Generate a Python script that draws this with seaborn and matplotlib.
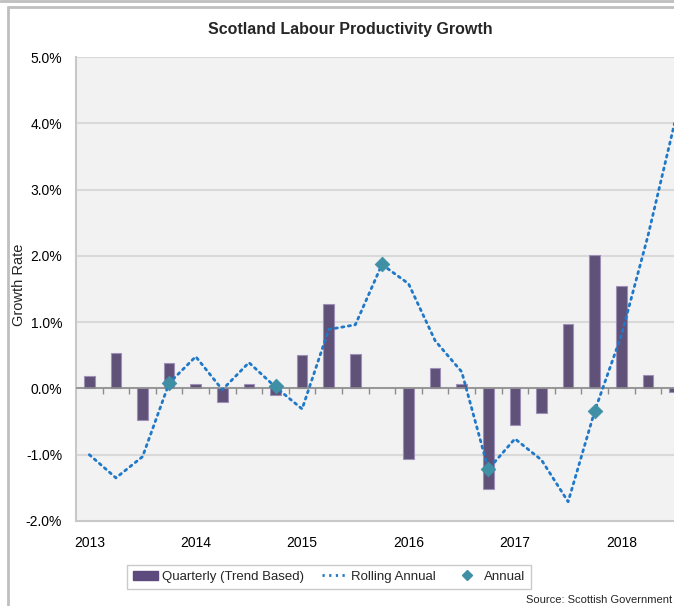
import numpy as np
import pandas as pd
import matplotlib
matplotlib.use("Agg")
import matplotlib.pyplot as plt
from matplotlib.lines import Line2D
from matplotlib.patches import Patch
import seaborn as sns

# quarters from 2013 Q1, values in %
quarter_pos = list(range(23))
year_labels = ["2013", "2014", "2015", "2016", "2017", "2018"]
year_pos = [0, 4, 8, 12, 16, 20]
quarterly = [0.19, 0.53, -0.48, 0.39, 0.06, -0.20, 0.06, -0.10, 0.51, 1.28, 0.52, np.nan,
             -1.06, 0.31, 0.07, -1.51, -0.55, -0.37, 0.97, 2.02, 1.55, 0.21, -0.05]
rolling = [-1.00, -1.35, -1.03, 0.08, 0.48, -0.02, 0.39, 0.02, -0.31, 0.89, 0.96, 1.87,
           1.58, 0.72, 0.25, -1.22, -0.76, -1.08, -1.71, -0.34, 0.80, 2.30, 4.00]
annual_pos = [3, 7, 11, 15, 19]
annual = [0.08, 0.04, 1.88, -1.21, -0.34]

BAR_C = "#5e4b7e"
LINE_C = "#1f78c8"
DIAM_C = "#3f8fa5"
FONT = ["Liberation Sans", "DejaVu Sans"]

sns.set_style("white")
plt.rcParams["font.family"] = FONT

df_q = pd.DataFrame({"pos": quarter_pos, "value": quarterly}).dropna()
df_r = pd.DataFrame({"pos": quarter_pos, "value": rolling})
df_a = pd.DataFrame({"pos": annual_pos, "value": annual})

fig = plt.figure(figsize=(6.74, 6.06), dpi=100)
ax = fig.add_axes([0.1128, 0.1403, 0.8872, 0.7656])
ax.set_facecolor("#f2f2f2")

for v in range(-1, 6):
    ax.axhline(v, color="#d9d9d9", lw=1.5, zorder=0)

sns.barplot(data=df_q, x="pos", y="value", native_scale=True, width=0.4,
            color=BAR_C, edgecolor="#9d8fb5", linewidth=0.8, ax=ax, zorder=2)
sns.lineplot(data=df_r, x="pos", y="value", ax=ax, color=LINE_C, lw=2.0,
             linestyle=(0, (0.8, 1.6)), zorder=4)
ax.lines[-1].set_dash_capstyle("round")
sns.scatterplot(data=df_a, x="pos", y="value", ax=ax, marker="D", s=55,
                color=DIAM_C, edgecolor=DIAM_C, zorder=5)

ax.axhline(0, color="#8c8c8c", lw=1.2, zorder=3)
ax.vlines(np.array(quarter_pos) + 0.5, -0.08, 0, color="#8c8c8c", lw=1.0, zorder=3)

ax.set_xlim(-0.5, 21.98)
ax.set_ylim(-2.0, 5.0)
ax.set_yticks(range(-2, 6))
ax.set_yticklabels([f"{v:.1f}%" for v in range(-2, 6)])
ax.set_xticks(year_pos)
ax.set_xticklabels(year_labels)
ax.tick_params(axis="both", length=0, labelsize=10, colors="#000000")
ax.tick_params(axis="x", pad=11)
ax.tick_params(axis="y", pad=10)
ax.set_xlabel("")
ax.set_ylabel("Growth Rate", fontsize=10.5)
ax.yaxis.set_label_coords(-0.083, 0.51)

for s in ["top", "right"]:
    ax.spines[s].set_visible(False)
for s in ["left", "bottom"]:
    ax.spines[s].set_color("#c8c8c8")
    ax.spines[s].set_linewidth(1.5)

fig.text(0.52, 0.951, "Scotland Labour Productivity Growth", ha="center", va="center",
         fontsize=11.5, fontweight="bold")

handles = [Patch(facecolor=BAR_C, edgecolor=BAR_C),
           Line2D([0], [0], color=LINE_C, lw=2.0, linestyle=(0, (0.8, 1.6))),
           Line2D([0], [0], marker="D", color="none", markerfacecolor=DIAM_C,
                  markeredgecolor=DIAM_C, markersize=5)]
labels = ["Quarterly (Trend Based)", "Rolling Annual", "Annual"]
leg = fig.legend(handles, labels, loc="center", bbox_to_anchor=(0.488, 0.048), ncol=3,
                 frameon=True, fancybox=False, edgecolor="#bfbfbf", fontsize=9.5,
                 handlelength=1.9, handletextpad=0.3, columnspacing=1.4,
                 borderpad=0.45)

fig.text(0.997, 0.002, "Source: Scottish Government", ha="right", va="bottom", fontsize=8)

# chart frame
fig.add_artist(Line2D([0.012, 0.012], [0.0, 0.988], color="#bfbfbf", lw=2))
fig.add_artist(Line2D([0.012, 1.0], [0.988, 0.988], color="#bfbfbf", lw=2))
fig.add_artist(Line2D([0.0, 1.0], [0.999, 0.999], color="#bfbfbf", lw=2))

fig.savefig("out.png", dpi=100)
